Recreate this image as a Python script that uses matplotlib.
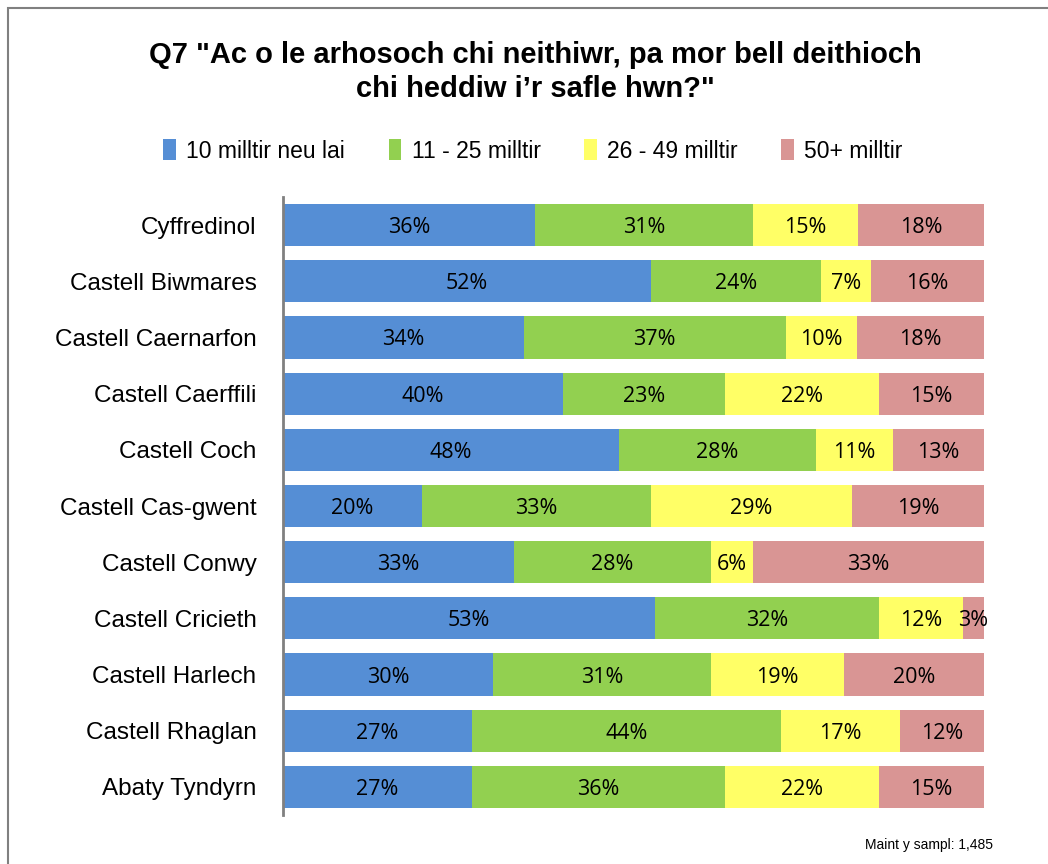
import numpy as np
import matplotlib.pyplot as plt
from matplotlib.patches import Rectangle

sites = ['Cyffredinol', 'Castell Biwmares', 'Castell Caernarfon', 'Castell Caerffili',
         'Castell Coch', 'Castell Cas-gwent', 'Castell Conwy', 'Castell Cricieth',
         'Castell Harlech', 'Castell Rhaglan', 'Abaty Tyndyrn']
series = ['10 milltir neu lai', '11 - 25 milltir', '26 - 49 milltir', '50+ milltir']
v10 = [36, 52, 34, 40, 48, 20, 33, 53, 30, 27, 27]
v11_25 = [31, 24, 37, 23, 28, 33, 28, 32, 31, 44, 36]
v26_49 = [15, 7, 10, 22, 11, 29, 6, 12, 19, 17, 22]
v50 = [18, 16, 18, 15, 13, 19, 33, 3, 20, 12, 15]
colors = ['#558ED5', '#92D050', '#FFFF66', '#D99594']

W, H = 1048, 864
fig = plt.figure(figsize=(W / 100, H / 100), dpi=100)
ax = fig.add_axes([283 / W, 1 - 815 / H, (984 - 283) / W, (815 - 197) / H])

data = np.array([v10, v11_25, v26_49, v50], dtype=float)
totals = data.sum(axis=0)  # 100% stacked: each row fills the width
y = np.arange(len(sites))
left = np.zeros(len(sites))
for vals, name, c in zip(data, series, colors):
    widths = vals / totals * 100
    ax.barh(y, widths, left=left, height=0.75, color=c, label=name)
    for yi, l, w, v in zip(y, left, widths, vals):
        ax.text(l + w / 2, yi, f'{int(v)}%', ha='center', va='center_baseline',
                fontsize=15.5, family='Open Sans', color='black')
    left += widths

ax.set_xlim(0, 100)
ax.set_ylim(len(sites) - 0.5, -0.5)
ax.set_yticks(y)
ax.set_yticklabels(sites, fontsize=17.5, family='Liberation Sans')
ax.tick_params(axis='y', length=0, pad=19)
ax.set_xticks([])
for s in ['top', 'right', 'bottom']:
    ax.spines[s].set_visible(False)
ax.spines['left'].set_color('#808080')
ax.spines['left'].set_linewidth(2)

fig.text(535 / W, 1 - 72 / H, 'Q7 "Ac o le arhosoch chi neithiwr, pa mor bell deithioch\nchi heddiw i\u2019r safle hwn?"',
         ha='center', va='center', fontsize=21, fontweight='bold', family='Liberation Sans',
         linespacing=1.3)

leg = fig.legend(loc='center', bbox_to_anchor=(533 / W, 1 - 151 / H), ncol=4, frameon=False,
                 prop={'family': 'Liberation Sans', 'size': 16.5}, handlelength=0.55,
                 handleheight=1.0, handletextpad=0.45, columnspacing=1.9)

fig.text(993 / W, 1 - 845 / H, 'Maint y sampl: 1,485', ha='right', va='center',
         fontsize=10, family='Liberation Sans')

fig.patches.append(Rectangle((8 / W, -0.1), 1.2, 1 - 8 / H + 0.1, transform=fig.transFigure,
                             fill=False, edgecolor='#808080', linewidth=1.5))

fig.savefig('out.png', dpi=100)
